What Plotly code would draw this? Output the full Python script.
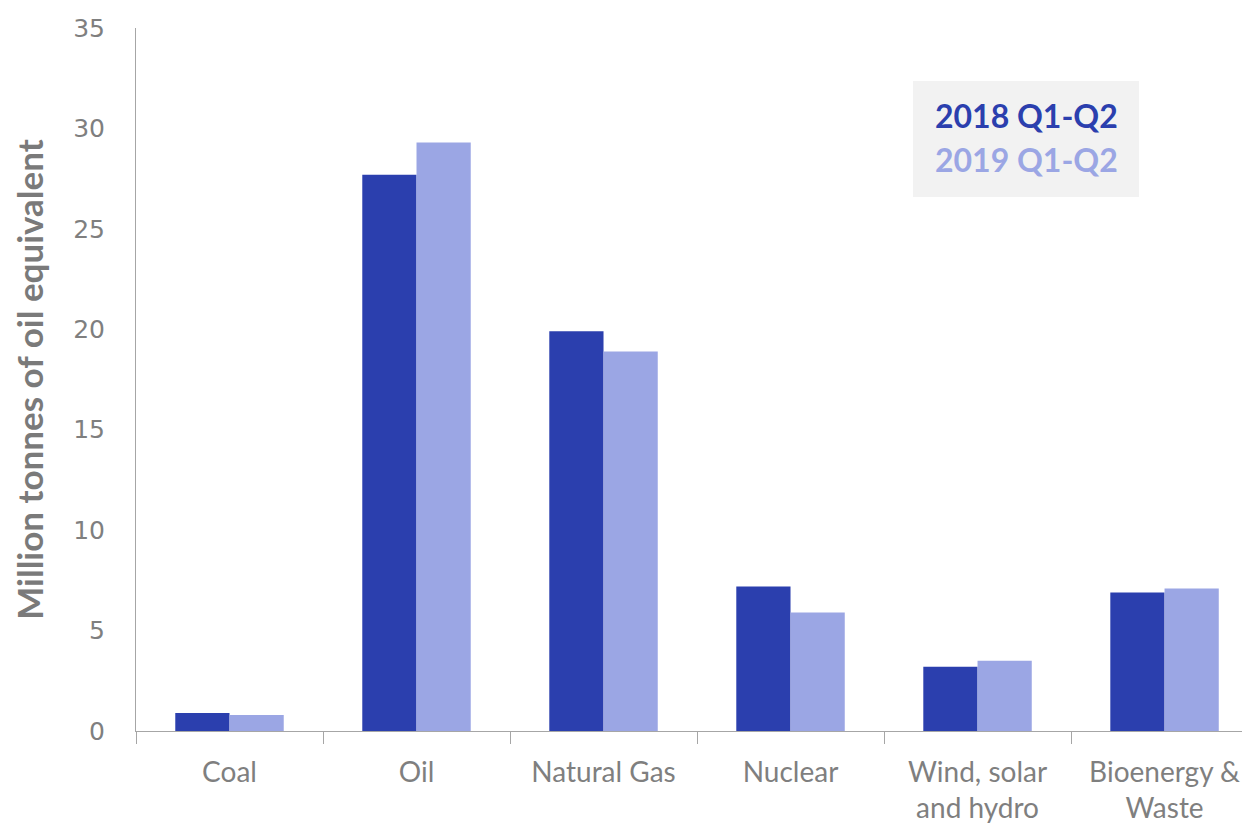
import plotly.graph_objects as go

categories = ["Coal", "Oil", "Natural Gas", "Nuclear", "Wind, solar<br>and hydro", "Bioenergy &<br>Waste"]
series_names = ["2018 Q1-Q2", "2019 Q1-Q2"]
values_2018 = [0.9, 27.7, 19.9, 7.2, 3.2, 6.9]
values_2019 = [0.8, 29.3, 18.9, 5.9, 3.5, 7.1]
colors = ["#2b3fae", "#9ba6e4"]
y_ticks = [0, 5, 10, 15, 20, 25, 30, 35]

fig = go.Figure()
for name, vals, col in zip(series_names, [values_2018, values_2019], colors):
    fig.add_trace(go.Bar(x=categories, y=vals, name=name, marker_color=col,
                         marker_line_width=0, showlegend=False))

gray = "#7f7f7f"
# page body has an 8px default margin; compensate so the plot area lands where the reference has it
fig.update_layout(
    width=1242, height=815,
    margin=dict(l=128, r=0, t=20, b=92),
    paper_bgcolor="white", plot_bgcolor="white",
    barmode="group", bargap=0.42, bargroupgap=0,
    font=dict(family="Lato, sans-serif", color=gray),
    xaxis=dict(
        range=[-0.5, 5.457],
        showline=True, linecolor="#a6a6a6", linewidth=1,
        ticks="outside", tickson="boundaries", ticklen=12, tickcolor="#a6a6a6",
        tickfont=dict(size=28, color=gray, family="Lato, sans-serif"),
        ticklabelstandoff=16,
        showgrid=False, zeroline=False,
    ),
    yaxis=dict(
        range=[0, 35], tickvals=y_ticks,
        showline=True, linecolor="#a6a6a6", linewidth=1,
        showgrid=False, zeroline=False,
        ticks="", ticklabelstandoff=25,
        tickfont=dict(size=25, color=gray, family="DejaVu Sans, sans-serif"),
        title=dict(text="<b>Million tonnes of oil equivalent</b>", standoff=20,
                   font=dict(size=35, color="#7a7a7a", family="Lato, sans-serif")),
    ),
)

fig.add_shape(type="rect", xref="paper", yref="paper",
              x0=(913 - 136) / 1114, x1=(1139 - 136) / 1114,
              y0=(731 - 197) / 703, y1=(731 - 81) / 703,
              fillcolor="#f2f2f2", line_width=0, layer="below")
for i, (name, col) in enumerate(zip(series_names, colors)):
    fig.add_annotation(xref="paper", yref="paper",
                       x=(1026 - 136) / 1114, y=(731 - (115 + 44 * i)) / 703,
                       text=f"<b>{name}</b>", showarrow=False,
                       font=dict(size=32, color=col, family="Lato, sans-serif"),
                       xanchor="center", yanchor="middle")

fig.write_html("out.html")
